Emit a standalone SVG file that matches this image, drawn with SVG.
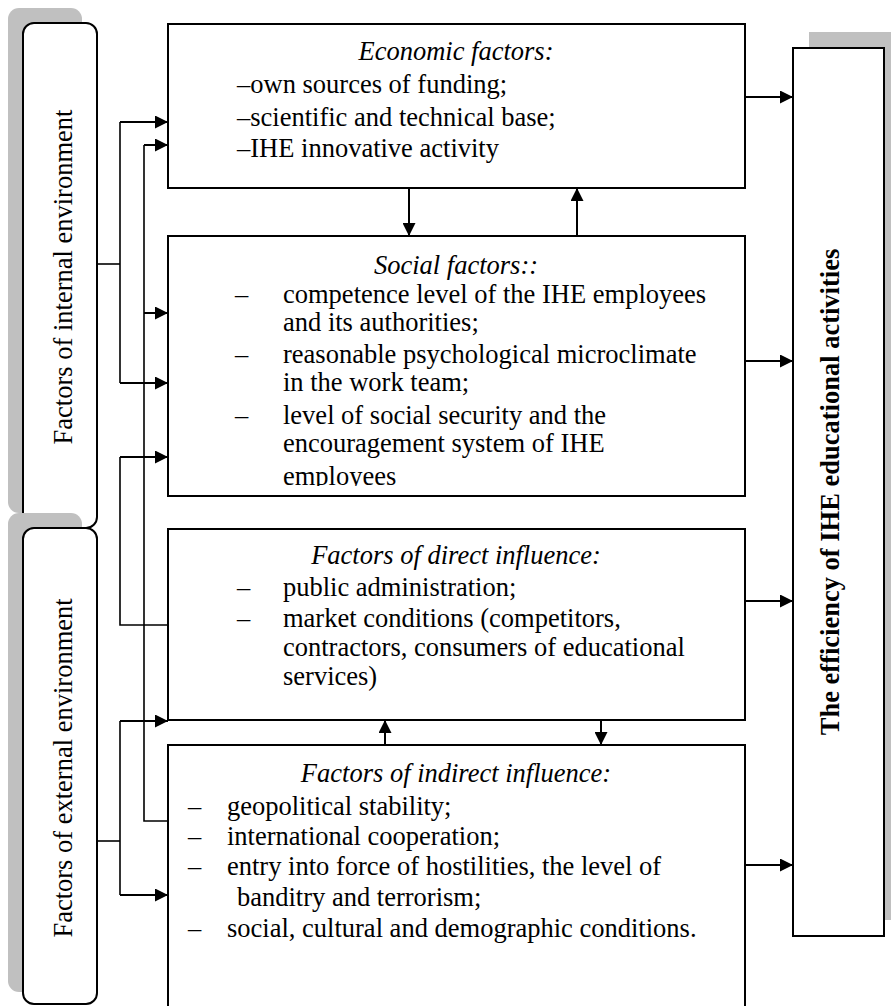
<svg xmlns="http://www.w3.org/2000/svg" width="891" height="1006" viewBox="0 0 891 1006">
<style>
  text { font-family: "Liberation Serif", "Times New Roman", serif; font-size: 26.5px; fill: #000; }
  .it { font-style: italic; }
  .title { font-style: italic; text-anchor: middle; }
  .bold { font-weight: bold; }
  .box { fill: #fff; stroke: #000; stroke-width: 2; }
  .shadow { fill: #c0c0c0; stroke: none; }
  .line { fill: none; stroke: #000; stroke-width: 1.6; }
  .arrow { fill: none; stroke: #000; stroke-width: 2; marker-end: url(#ah); }
</style>
<defs>
  <marker id="ah" viewBox="0 0 10 10" refX="10" refY="5" markerWidth="15" markerHeight="13" markerUnits="userSpaceOnUse" orient="auto">
    <path d="M0,0 L10,5 L0,10 z" fill="#000"/>
  </marker>
  <clipPath id="socialClip"><rect x="168" y="236" width="577" height="250"/></clipPath>
</defs>
<rect width="891" height="1006" fill="#fff"/>

<g id="internal-environment">
  <rect class="shadow" x="8" y="8" width="74" height="505" rx="11"/>
  <rect class="box" x="23" y="23" width="74" height="505" rx="11"/>
  <text transform="rotate(-90 72 277)" x="72" y="277" text-anchor="middle">Factors of internal environment</text>
</g>

<g id="external-environment">
  <rect class="shadow" x="8" y="513" width="74" height="479" rx="11"/>
  <rect class="box" x="23" y="528" width="74" height="476" rx="11"/>
  <text transform="rotate(-90 72 768)" x="72" y="768" text-anchor="middle">Factors of external environment</text>
</g>

<g id="efficiency">
  <rect class="shadow" x="809" y="32" width="82" height="888"/>
  <rect class="box" x="793" y="48" width="91" height="888"/>
  <text class="bold" transform="rotate(-90 839 492)" x="839" y="492" text-anchor="middle">The efficiency of IHE educational activities</text>
</g>

<g id="economic-factors">
  <rect class="box" x="168" y="24" width="577" height="164"/>
  <text class="title" x="456" y="60">Economic factors:</text>
  <text x="237" y="93">–own sources of funding;</text>
  <text x="237" y="126">–scientific and technical base;</text>
  <text x="237" y="157">–IHE innovative activity</text>
</g>

<g id="social-factors">
  <rect class="box" x="168" y="236" width="577" height="260"/>
  <g clip-path="url(#socialClip)">
    <text class="title" x="456" y="274">Social factors::</text>
    <text x="235" y="303">–</text>
    <text x="283" y="303">competence level of the IHE employees</text>
    <text x="283" y="331">and its authorities;</text>
    <text x="235" y="363">–</text>
    <text x="283" y="363">reasonable psychological microclimate</text>
    <text x="283" y="391">in the work team;</text>
    <text x="235" y="424">–</text>
    <text x="283" y="424">level of social security and the</text>
    <text x="283" y="452">encouragement system of IHE</text>
    <text x="283" y="485">employees</text>
  </g>
</g>

<g id="direct-influence">
  <rect class="box" x="168" y="529" width="577" height="191"/>
  <text class="title" x="456" y="564">Factors of direct influence:</text>
  <text x="237" y="596">–</text>
  <text x="283" y="596">public administration;</text>
  <text x="237" y="627">–</text>
  <text x="283" y="627">market conditions (competitors,</text>
  <text x="283" y="656">contractors, consumers of educational</text>
  <text x="283" y="685">services)</text>
</g>

<g id="indirect-influence">
  <rect class="box" x="168" y="745" width="577" height="280"/>
  <text class="title" x="456" y="782">Factors of indirect influence:</text>
  <text x="188" y="815">–</text>
  <text x="227" y="815">geopolitical stability;</text>
  <text x="188" y="845">–</text>
  <text x="227" y="845">international cooperation;</text>
  <text x="188" y="875">–</text>
  <text x="227" y="875">entry into force of hostilities, the level of</text>
  <text x="237" y="906">banditry and terrorism;</text>
  <text x="188" y="937">–</text>
  <text x="227" y="937">social, cultural and demographic conditions.</text>
</g>

<g id="connectors">
  <!-- internal environment to economic and social -->
  <polyline class="line" points="97,264 120,264"/>
  <polyline class="line" points="120,122 120,383"/>
  <line class="arrow" x1="120" y1="122" x2="168" y2="122"/>
  <line class="arrow" x1="120" y1="383" x2="168" y2="383"/>
  <!-- indirect influence to economic and social -->
  <polyline class="line" points="168,821 144,821 144,145"/>
  <line class="arrow" x1="144" y1="145" x2="168" y2="145"/>
  <line class="arrow" x1="144" y1="313" x2="168" y2="313"/>
  <!-- direct influence to social -->
  <polyline class="line" points="168,625 120,625 120,457"/>
  <line class="arrow" x1="120" y1="457" x2="168" y2="457"/>
  <!-- external environment to direct and indirect -->
  <polyline class="line" points="97,841 120,841"/>
  <polyline class="line" points="120,721 120,895"/>
  <line class="arrow" x1="120" y1="721" x2="168" y2="721"/>
  <line class="arrow" x1="120" y1="895" x2="168" y2="895"/>
  <!-- between economic and social -->
  <line class="arrow" x1="409" y1="188" x2="409" y2="236"/>
  <line class="arrow" x1="577" y1="236" x2="577" y2="188"/>
  <!-- between direct and indirect -->
  <line class="arrow" x1="385" y1="745" x2="385" y2="720"/>
  <line class="arrow" x1="601" y1="720" x2="601" y2="745"/>
  <!-- to efficiency -->
  <line class="arrow" x1="745" y1="97" x2="793" y2="97"/>
  <line class="arrow" x1="745" y1="361" x2="793" y2="361"/>
  <line class="arrow" x1="745" y1="601" x2="793" y2="601"/>
  <line class="arrow" x1="745" y1="865" x2="793" y2="865"/>
</g>
</svg>
